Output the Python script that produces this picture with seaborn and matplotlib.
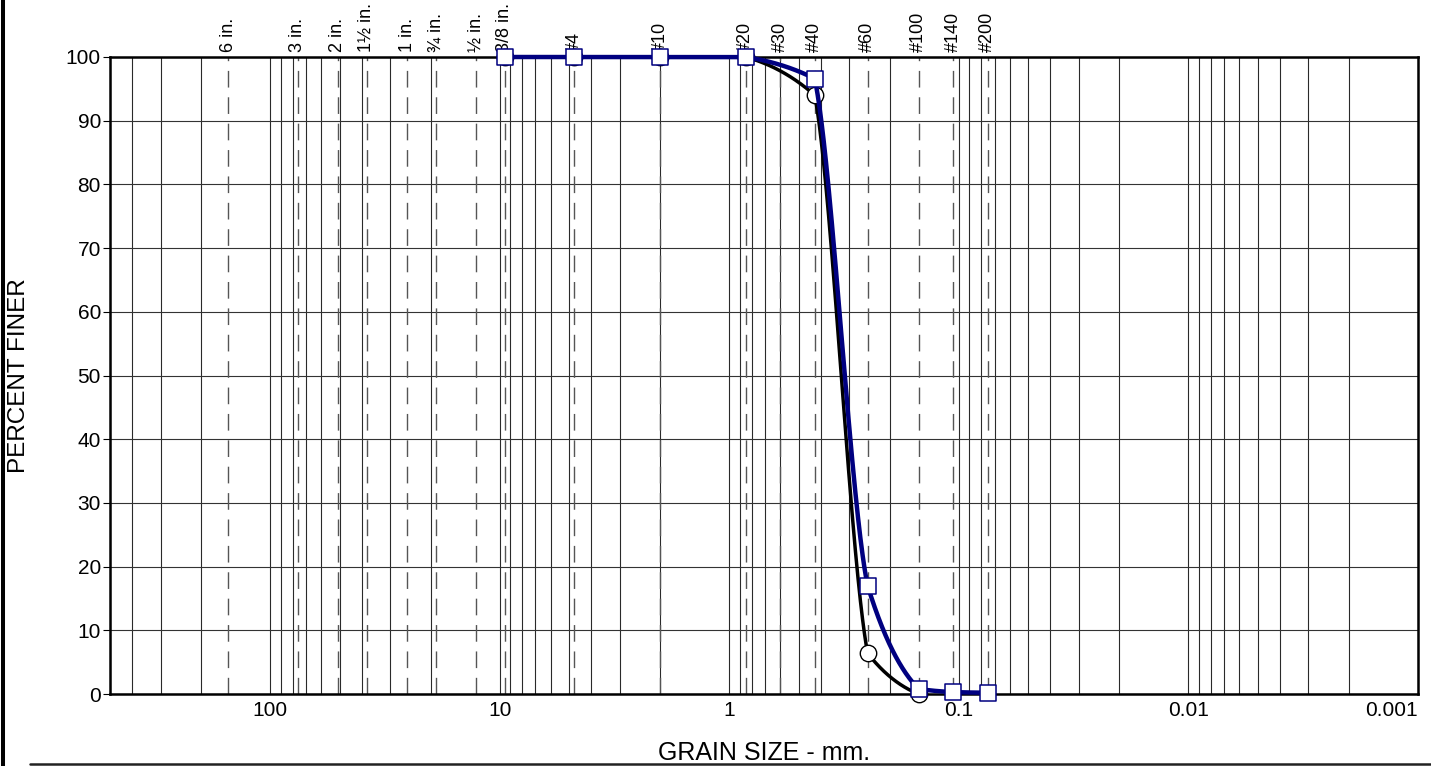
import numpy as np
import matplotlib
matplotlib.use("Agg")
import matplotlib.pyplot as plt
import seaborn as sns
from matplotlib.lines import Line2D
from matplotlib.ticker import FixedLocator, FuncFormatter, LogLocator, NullFormatter

# Standard sieve openings (mm) and their names along the top edge
sieve_labels = ["6 in.", "3 in.", "2 in.", "1½ in.", "1 in.", "¾ in.", "½ in.", "3/8 in.",
                "#4", "#10", "#20", "#30", "#40", "#60", "#100", "#140", "#200"]
sieve_mm = [152.4, 76.2, 50.8, 38.1, 25.4, 19.05, 12.7, 9.525,
            4.75, 2.0, 0.85, 0.6, 0.425, 0.25, 0.15, 0.106, 0.075]

# Grain size decades shown on the bottom axis
x_ticks = [100, 10, 1, 0.1, 0.01, 0.001]
y_ticks = [0, 10, 20, 30, 40, 50, 60, 70, 80, 90, 100]

# Sample A (black, circles)
sample_a_mm = [9.525, 4.75, 2.0, 0.85, 0.425, 0.25, 0.15]
sample_a_pct = [100, 100, 100, 100, 94.0, 6.4, 0.0]

# Sample B (navy, squares)
sample_b_mm = [9.525, 4.75, 2.0, 0.85, 0.425, 0.25, 0.15, 0.106, 0.075]
sample_b_pct = [100, 100, 100, 100, 96.6, 17.0, 0.8, 0.3, 0.2]

NAVY = "#000080"
W, H = 1431, 766
AX_L, AX_R, AX_T, AX_B = 110, 1418, 57, 694


def smooth_curve(mm, pct, n=200, lo=0.5, hi=1.6):
    """Gently rounded connecting line between measured points (cubic
    Hermite pieces in log-size space, end slopes bounded so that each piece
    stays monotone)."""
    u = -np.log10(np.asarray(mm, float))
    y = np.asarray(pct, float)
    h = np.diff(u)
    d = np.diff(y) / h
    xs, ys = [], []
    t = np.linspace(0.0, 1.0, n)
    h00 = 2 * t**3 - 3 * t**2 + 1
    h10 = t**3 - 2 * t**2 + t
    h01 = -2 * t**3 + 3 * t**2
    h11 = t**3 - t**2
    for k in range(len(h)):
        def ratio(j):
            if d[k] == 0:
                return 0.0
            if j < 0 or j >= len(d):
                return lo
            return float(np.clip(d[j] / d[k], lo, hi))
        m0 = d[k] * ratio(k - 1)
        m1 = d[k] * ratio(k + 1)
        ys.append(h00 * y[k] + h10 * h[k] * m0 + h01 * y[k + 1] + h11 * h[k] * m1)
        xs.append(u[k] + t * h[k])
    return 10 ** (-np.concatenate(xs)), np.concatenate(ys)


sns.set_theme(style="white")
plt.rcParams["font.family"] = ["Liberation Sans", "DejaVu Sans"]

fig = plt.figure(figsize=(W / 100, H / 100), dpi=100)
ax = fig.add_axes([AX_L / W, 1 - AX_B / H, (AX_R - AX_L) / W, (AX_B - AX_T) / H])

ax.set_xscale("log")
ax.set_xlim(500, 0.001)
ax.set_ylim(0, 100)

ax.xaxis.set_major_locator(FixedLocator(x_ticks))
ax.xaxis.set_major_formatter(FuncFormatter(lambda v, p: f"{v:g}"))
ax.xaxis.set_minor_locator(LogLocator(base=10, subs=np.arange(2, 10), numticks=60))
ax.xaxis.set_minor_formatter(NullFormatter())
ax.yaxis.set_major_locator(FixedLocator(y_ticks))

ax.set_axisbelow(True)
ax.grid(which="both", axis="x", color="#2a2a2a", lw=0.8)
ax.grid(which="major", axis="y", color="#333333", lw=0.8)

ax.tick_params(axis="x", which="both", length=0, pad=5, labelsize=15, colors="black")
ax.tick_params(axis="y", which="major", left=True, length=5, width=0.8,
               pad=1.5, labelsize=15, colors="black", direction="out")

for sp in ax.spines.values():
    sp.set_linewidth(1.8)
    sp.set_color("black")
    sp.set_visible(True)

# Sieve opening reference lines
for v in sieve_mm:
    ax.axvline(v, color="#555555", lw=1.0, ls=(0, (12, 7)), zorder=1)

for lab, v in zip(sieve_labels, sieve_mm):
    ax.annotate(lab, xy=(v, 1.0), xycoords=("data", "axes fraction"),
                xytext=(0, 5), textcoords="offset pixels", rotation=90,
                ha="center", va="bottom", fontsize=13, color="black",
                annotation_clip=False)

# Gradation curves
ax_x, ax_y = smooth_curve(sample_a_mm, sample_a_pct)
bx_x, bx_y = smooth_curve(sample_b_mm, sample_b_pct)

sns.lineplot(x=ax_x, y=ax_y, sort=False, estimator=None, color="black",
             lw=2.5, ax=ax, zorder=3, clip_on=False, legend=False)
sns.scatterplot(x=sample_a_mm, y=sample_a_pct, marker="o", s=140, color="white",
                edgecolor="black", linewidth=1.0, ax=ax, zorder=4,
                clip_on=False, legend=False)
sns.lineplot(x=bx_x, y=bx_y, sort=False, estimator=None, color=NAVY,
             lw=3.2, ax=ax, zorder=5, clip_on=False, legend=False)
sns.scatterplot(x=sample_b_mm, y=sample_b_pct, marker="s", s=130, color="white",
                edgecolor=NAVY, linewidth=1.1, ax=ax, zorder=6,
                clip_on=False, legend=False)

# The last decade label sits flush with the right border
fig.canvas.draw()
xlabels = ax.get_xticklabels()
xlabels[-1].set_horizontalalignment("right")

ax.set_xlabel("GRAIN SIZE - mm.", fontsize=18, color="black")
ax.xaxis.set_label_coords(0.5, (AX_B - 741) / (AX_B - AX_T))
ax.set_ylabel("PERCENT FINER", fontsize=17.5, color="black", va="center")
ax.yaxis.set_label_coords((19 - AX_L) / (AX_R - AX_L), 0.5)

# Page frame rules
fig.add_artist(Line2D([2.5 / W, 2.5 / W], [0, 1], transform=fig.transFigure,
                      color="black", lw=2.9))
fig.add_artist(Line2D([30 / W, 1], [1 - 764 / H, 1 - 764 / H],
                      transform=fig.transFigure, color="#222222", lw=1.8))

fig.savefig("out.png", dpi=100)
